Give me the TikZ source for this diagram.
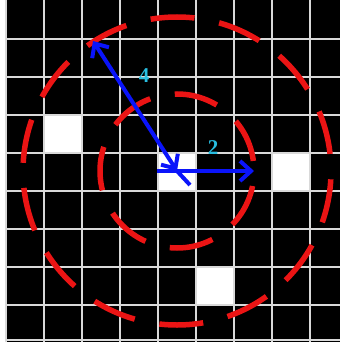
\documentclass[tikz,border=0pt]{standalone}
\usepackage{fontspec}
\setmainfont{Liberation Serif}
\usetikzlibrary{arrows.meta}
\definecolor{ringred}{RGB}{235, 20, 20}
\definecolor{arrowblue}{RGB}{10, 20, 250}
\definecolor{labelcyan}{RGB}{40, 190, 225}

\begin{document}
\begin{tikzpicture}[x=1pt, y=-1pt, >={Straight Barb[length=11pt, width=20pt]}]
    \tikzset{
        gridline/.style={white!85!black, line width=2pt},
        ring/.style={ringred, line width=5.5pt, dash pattern=on 44pt off 25.1pt},
        radius arrow/.style={arrowblue, line width=4pt},
        radius label/.style={labelcyan, inner sep=0pt, font=\fontsize{21}{21}\selectfont\bfseries}
    }
    \useasboundingbox (0,0) rectangle (340,342);
    % background and cells
    \fill[white] (0,0) rectangle (340,342);
    \fill[black] (6,0) rectangle (340,342);
    \fill[white] (44,115) rectangle (82,153);
    \fill[white] (158,153) rectangle (196,191);
    \fill[white] (272,153) rectangle (310,191);
    \fill[white] (196,267) rectangle (234,305);
    % grid
    \foreach \gx in {6,44,82,120,158,196,234,272,310}
        \draw[gridline] (\gx,0) -- (\gx,342);
    \foreach \gy in {39,77,115,153,191,229,267,305,340}
        \draw[gridline] (6,\gy) -- (340,\gy);
    % dashed circles
    \coordinate (c) at (177,171);
    \draw[ring, dash phase=59pt] (c) circle[radius=77pt];
    \draw[ring, dash phase=52pt] (c) circle[radius=154pt];
    % radii
    \coordinate (r2) at (254,171);
    \coordinate (r2start) at (157,171);
    \coordinate (r4) at (93,41);
    \coordinate (tail) at (190,185);
    \draw[radius arrow] (c) -- (tail);
    \draw[radius arrow, <->] (c) -- (r4);
    \draw[radius arrow, ->] (r2start) -- (r2);
    \node[radius label] (l4) at (144,76) {4};
    \node[radius label] (l2) at (213,148) {2};
\end{tikzpicture}
\end{document}
